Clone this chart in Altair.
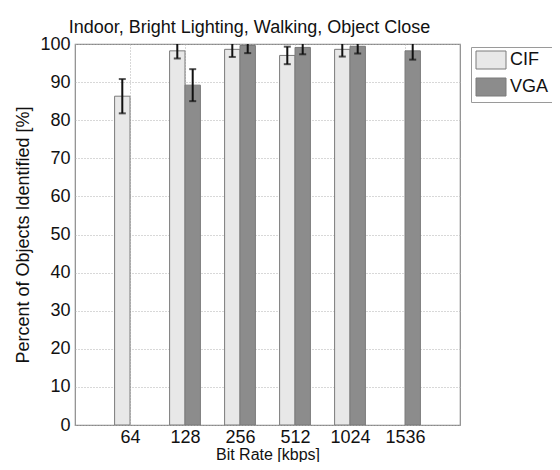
import altair as alt
import pandas as pd

bitrates = ["64", "128", "256", "512", "1024", "1536"]
series = ["CIF", "VGA"]
cif_mean = [86.3, 98.2, 98.6, 97.0, 98.6, None]
cif_err = [4.5, 2.0, 2.0, 2.3, 1.9, None]
vga_mean = [None, 89.2, 99.6, 99.1, 99.4, 98.2]
vga_err = [None, 4.2, 2.0, 1.8, 1.9, 2.3]
colors = ["#e8e8e8", "#8c8c8c"]

rows = []
for i, br in enumerate(bitrates):
    for s, m, e in (("CIF", cif_mean[i], cif_err[i]), ("VGA", vga_mean[i], vga_err[i])):
        if m is None:
            continue
        rows.append({"idx": i + 1, "rate": br, "series": s, "mean": m, "err": e})
df = pd.DataFrame(rows)

FONT = "Liberation Sans"
FS = 18
BW = 0.28

base = alt.Chart(df).transform_calculate(
    x0="datum.series == 'CIF' ? datum.idx - %f : datum.idx" % BW,
    x1="datum.series == 'CIF' ? datum.idx : datum.idx + %f" % BW,
    xc="datum.series == 'CIF' ? datum.idx - %f : datum.idx + %f" % (BW / 2, BW / 2),
    lo="datum.mean - datum.err",
    hi="datum.mean + datum.err",
)

label_expr = "['', " + ", ".join("'%s'" % b for b in bitrates) + ", ''][datum.value]"

xscale = alt.Scale(domain=[0, 7], nice=False, zero=False)
yscale = alt.Scale(domain=[0, 100], nice=False)

xaxis = alt.Axis(values=[1, 2, 3, 4, 5, 6], labelExpr=label_expr,
                 title="Bit Rate [kbps]", grid=True, gridDash=[1, 2],
                 gridColor="#b0b0b0", tickSize=0, labelPadding=3,
                 titlePadding=0, titleFontSize=16, domain=False, labelOverlap=False)
yaxis = alt.Axis(values=list(range(0, 101, 10)), title="Percent of Objects Identified [%]",
                 grid=True, gridDash=[1, 2], gridColor="#b0b0b0", tickSize=0,
                 labelPadding=5, titlePadding=7, domain=False, labelOverlap=False)

bars = base.mark_rect(stroke="#7a7a7a", strokeWidth=1, clip=True).encode(
    x=alt.X("x0:Q", scale=xscale, axis=xaxis),
    x2="x1:Q",
    y=alt.Y("mean:Q", scale=yscale, axis=yaxis),
    y2=alt.datum(0),
    fill=alt.Color("series:N", scale=alt.Scale(domain=series, range=colors),
                   legend=alt.Legend(title=None, orient="none", legendX=396, legendY=3,
                                     symbolType="M-1,-1.125H2.75V1.125H-1Z", symbolSize=256,
                                     symbolStrokeColor="#7a7a7a", symbolStrokeWidth=1,
                                     labelFontSize=FS, labelFont=FONT, labelColor="#111",
                                     strokeColor="#9a9a9a", fillColor="white", padding=4,
                                     rowPadding=5, labelOffset=17)),
)

rules = base.mark_rule(color="#111", strokeWidth=2, clip=True).encode(
    x=alt.X("xc:Q", scale=xscale, axis=xaxis),
    y=alt.Y("lo:Q", scale=yscale, axis=yaxis),
    y2="hi:Q",
)
caps_lo = base.mark_tick(color="#111", thickness=2, size=7, orient="horizontal", clip=True).encode(
    x=alt.X("xc:Q", scale=xscale, axis=xaxis),
    y=alt.Y("lo:Q", scale=yscale, axis=yaxis),
)
caps_hi = base.mark_tick(color="#111", thickness=2, size=7, orient="horizontal", clip=True).encode(
    x=alt.X("xc:Q", scale=xscale, axis=xaxis),
    y=alt.Y("hi:Q", scale=yscale, axis=yaxis),
)

chart = alt.layer(bars, rules, caps_lo, caps_hi).properties(
    width=385, height=381,
    title=alt.TitleParams("Indoor, Bright Lighting, Walking, Object Close", font=FONT,
                          fontSize=FS, fontWeight="normal", color="#111", dx=-18, offset=-2),
    padding={"left": 67, "top": 36, "right": 92, "bottom": 37},
    autosize=alt.AutoSizeParams(type="none"),
).configure_axis(
    labelFont=FONT, titleFont=FONT, labelFontSize=FS, titleFontSize=FS,
    labelColor="#111", titleColor="#111", titleFontWeight="normal",
).configure_view(stroke="#8a8a8a", strokeWidth=1.2)

chart.save("out.html", embed_options={"renderer": "svg", "actions": False})
